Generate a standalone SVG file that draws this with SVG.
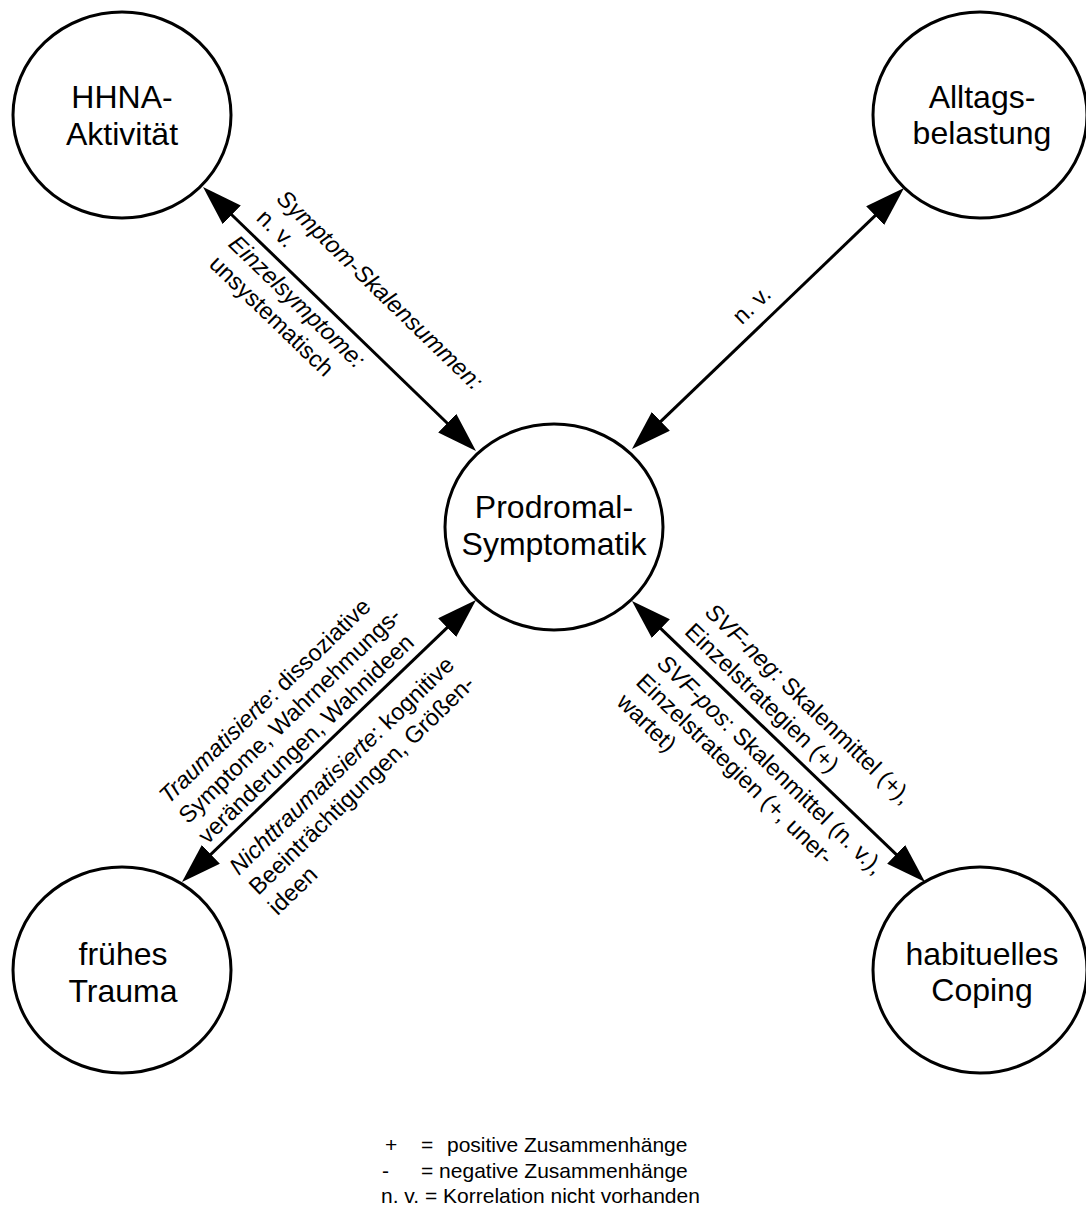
<svg xmlns="http://www.w3.org/2000/svg" width="1086" height="1209" viewBox="0 0 1086 1209">
  <style>
    text { font-family: "Liberation Sans", Arial, Helvetica, sans-serif; fill: #000; }
    .node ellipse { fill: #fff; stroke: #000; stroke-width: 3; }
    .node text { font-size: 32px; text-anchor: middle; }
    .edge { stroke: #000; stroke-width: 3; fill: none; marker-start: url(#head); marker-end: url(#head); }
    .lbl { font-size: 23.5px; }
    .it { font-style: italic; }
    .legend { font-size: 21px; }
  </style>
  <defs>
    <marker id="head" markerUnits="userSpaceOnUse" markerWidth="40" markerHeight="26" refX="30" refY="13" orient="auto-start-reverse" viewBox="0 0 40 26">
      <path d="M0,0 L40,13 L0,26 z" fill="#000"/>
    </marker>
  </defs>

  <rect width="1086" height="1209" fill="#fff"/>

  <!-- connectors (double-headed) -->
  <g id="connectors">
    <line class="edge" x1="210.2" y1="194.0" x2="468.8" y2="444.0"/>
    <line class="edge" x1="896.8" y1="194.9" x2="639.2" y2="442.1"/>
    <line class="edge" x1="189.2" y1="875.1" x2="468.8" y2="606.9"/>
    <line class="edge" x1="917.8" y1="875.1" x2="639.2" y2="607.9"/>
  </g>

  <!-- connector labels -->
  <g id="edge-labels" class="lbl">
    <g transform="translate(203,187) rotate(44)">
      <text x="61" y="-41" class="it">Symptom-Skalensummen:</text>
      <text x="60" y="-13">n. v.</text>
      <text x="58" y="25" class="it">Einzelsymptome:</text>
      <text x="58" y="53">unsystematisch</text>
    </g>
    <g transform="translate(632,448) rotate(-44)">
      <text x="164" y="-12">n. v.</text>
    </g>
    <g transform="translate(182,882) rotate(-44)">
      <text x="44" y="-65"><tspan class="it">Traumatisierte</tspan>: dissoziative</text>
      <text x="44" y="-37">Symptome, Wahrnehmungs-</text>
      <text x="44" y="-9">veränderungen, Wahnideen</text>
      <text x="45" y="35"><tspan class="it">Nichttraumatisierte</tspan>: kognitive</text>
      <text x="45" y="63">Beeinträchtigungen, Größen-</text>
      <text x="45" y="91">ideen</text>
    </g>
    <g transform="translate(632,600) rotate(44)">
      <text x="61" y="-40"><tspan class="it">SVF-neg</tspan>: Skalenmittel (+),</text>
      <text x="60" y="-12">Einzelstrategien (+)</text>
      <text x="62" y="30"><tspan class="it">SVF-pos</tspan>: Skalenmittel (n. v.),</text>
      <text x="60" y="58">Einzelstrategien (+, uner-</text>
      <text x="60" y="86">wartet)</text>
    </g>
  </g>

  <!-- nodes -->
  <g id="node-hhna" class="node">
    <ellipse cx="122" cy="115" rx="109" ry="103"/>
    <text x="122" y="108">HHNA-</text>
    <text x="122" y="145">Aktivität</text>
  </g>
  <g id="node-alltag" class="node">
    <ellipse cx="980" cy="115" rx="107" ry="103"/>
    <text x="982" y="108">Alltags-</text>
    <text x="982" y="144">belastung</text>
  </g>
  <g id="node-prodromal" class="node">
    <ellipse cx="554" cy="527" rx="109" ry="103"/>
    <text x="554" y="518">Prodromal-</text>
    <text x="554" y="555">Symptomatik</text>
  </g>
  <g id="node-trauma" class="node">
    <ellipse cx="122" cy="970" rx="109" ry="103"/>
    <text x="123" y="965">frühes</text>
    <text x="123" y="1002">Trauma</text>
  </g>
  <g id="node-coping" class="node">
    <ellipse cx="980" cy="970" rx="107" ry="103"/>
    <text x="982" y="965">habituelles</text>
    <text x="982" y="1001">Coping</text>
  </g>

  <!-- legend -->
  <g id="legend" class="legend">
    <text x="385" y="1152">+</text>
    <text x="421" y="1152">=</text>
    <text x="447" y="1152">positive Zusammenhänge</text>
    <text x="382" y="1178">-</text>
    <text x="421" y="1178">= negative Zusammenhänge</text>
    <text x="381" y="1203">n. v. = Korrelation nicht vorhanden</text>
  </g>
</svg>
